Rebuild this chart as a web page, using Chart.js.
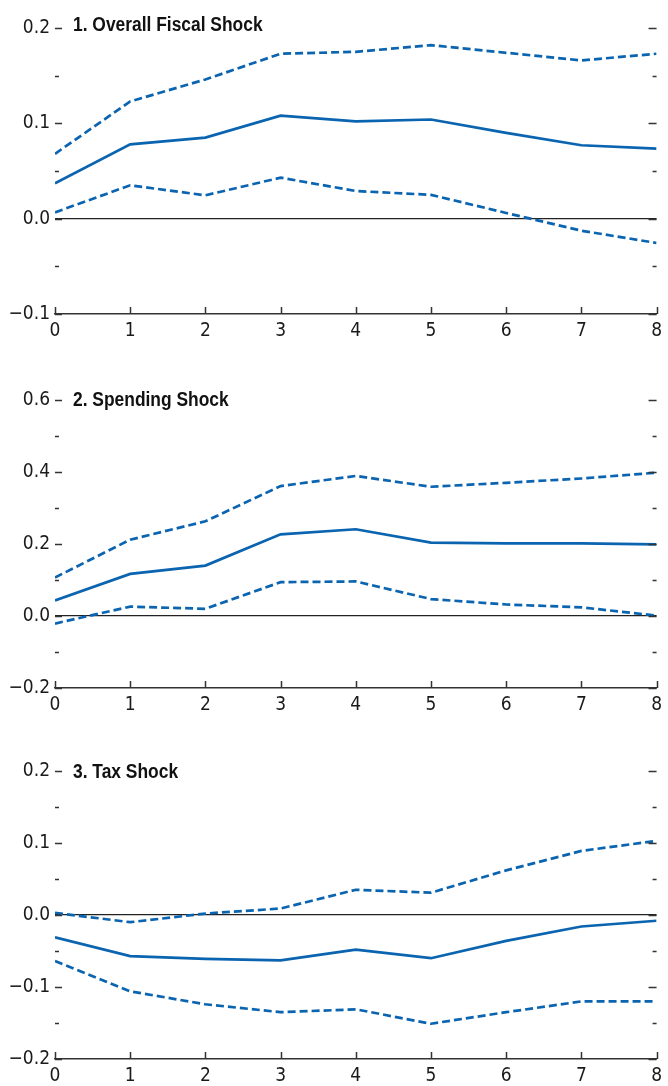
<!DOCTYPE html>
<html>
<head>
<meta charset="utf-8">
<script src="https://cdn.jsdelivr.net/npm/chart.js@4.4.1/dist/chart.umd.min.js"></script>
<style>
  html, body { margin: 0; padding: 0; background: #ffffff; }
  body { width: 668px; height: 1086px; position: relative; overflow: hidden; }
  .panel { position: absolute; left: 0; width: 668px; }
  .title { position: absolute; left: 73px; font-family: 'Liberation Sans', Arial, sans-serif;
           font-weight: bold; font-size: 20px; color: #111; white-space: nowrap; line-height: 1;
           transform: scaleX(0.87); transform-origin: left top; }
</style>
</head>
<body>
<script>
// ---- Data ----
const horizons = [0, 1, 2, 3, 4, 5, 6, 7, 8];
const xTickLabels = ['0', '1', '2', '3', '4', '5', '6', '7', '8'];

const titles = ['1. Overall Fiscal Shock', '2. Spending Shock', '3. Tax Shock'];

// Panel 1: Overall fiscal shock
const overallMid   = [0.037, 0.078, 0.085, 0.108, 0.102, 0.104, 0.090, 0.077, 0.0735];
const overallUpper = [0.068, 0.123, 0.146, 0.173, 0.175, 0.182, 0.174, 0.166, 0.173];
const overallLower = [0.0066, 0.035, 0.0245, 0.043, 0.029, 0.025, 0.006, -0.0126, -0.0255];

// Panel 2: Spending shock
const spendMid   = [0.043, 0.117, 0.140, 0.227, 0.241, 0.204, 0.202, 0.202, 0.199];
const spendUpper = [0.107, 0.212, 0.263, 0.361, 0.389, 0.359, 0.370, 0.382, 0.398];
const spendLower = [-0.021, 0.026, 0.020, 0.094, 0.096, 0.047, 0.032, 0.024, 0.001];

// Panel 3: Tax shock
const taxMid   = [-0.031, -0.057, -0.061, -0.063, -0.048, -0.060, -0.036, -0.016, -0.008];
const taxUpper = [0.003, -0.010, 0.002, 0.009, 0.035, 0.031, 0.062, 0.089, 0.103];
const taxLower = [-0.064, -0.106, -0.124, -0.135, -0.131, -0.151, -0.135, -0.120, -0.120];

// y-axis tick structure per panel
const yMins   = [-0.1, -0.2, -0.2];
const yMaxs   = [0.2, 0.6, 0.2];
const yMajors = [0.1, 0.2, 0.1];
const yMinors = [0.05, 0.1, 0.05];

// ---- Layout / style ----
const BLUE = '#0a64b0';
const FONT = "'Liberation Sans Narrow', 'DejaVu Sans Condensed', sans-serif";
const FSIZE = 19;
const panels = [
  { top: 0,   height: 360, areaTop: 28, areaBottom: 314, titleTop: 14 },
  { top: 360, height: 370, areaTop: 40, areaBottom: 328, titleTop: 29 },
  { top: 730, height: 356, areaTop: 41, areaBottom: 329, titleTop: 31 }
];
const seriesSets = [
  [overallUpper, overallLower, overallMid],
  [spendUpper, spendLower, spendMid],
  [taxUpper, taxLower, taxMid]
];

function isMajor(v, major) {
  const r = v / major;
  return Math.abs(r - Math.round(r)) < 1e-6;
}
function fmt(v) {
  const s = Math.abs(v).toFixed(1);
  return (v < -1e-9 ? '\u2212' : '') + s;
}

const tickMarks = {
  id: 'tickMarks',
  afterDraw(chart, args, opts) {
    const ctx = chart.ctx;
    const a = chart.chartArea;
    const y = chart.scales.y;
    const x = chart.scales.x;
    ctx.save();
    ctx.strokeStyle = '#333';
    ctx.lineWidth = 1.3;
    ctx.beginPath();
    y.ticks.forEach(t => {
      const py = Math.round(y.getPixelForValue(t.value)) + 0.5;
      const maj = isMajor(t.value, opts.major);
      const lenL = maj ? 7 : 4;
      const lenR = maj ? 8 : 4;
      ctx.moveTo(a.left, py); ctx.lineTo(a.left + lenL, py);
      ctx.moveTo(a.right - lenR, py); ctx.lineTo(a.right, py);
    });
    ctx.stroke();
    ctx.beginPath();
    ctx.lineWidth = 1.5;
    x.ticks.forEach(t => {
      const px = Math.round(x.getPixelForValue(t.value)) + 0.5;
      ctx.moveTo(px, a.bottom); ctx.lineTo(px, a.bottom - 7);
    });
    ctx.stroke();
    ctx.restore();
  }
};

function build() {
  panels.forEach((p, i) => {
    const wrap = document.createElement('div');
    wrap.className = 'panel';
    wrap.style.top = p.top + 'px';
    wrap.style.height = p.height + 'px';
    const cv = document.createElement('canvas');
    cv.width = 668; cv.height = p.height;
    cv.style.width = '668px'; cv.style.height = p.height + 'px';
    wrap.appendChild(cv);
    const tt = document.createElement('div');
    tt.className = 'title';
    tt.style.top = p.titleTop + 'px';
    tt.textContent = titles[i];
    wrap.appendChild(tt);
    document.body.appendChild(wrap);

    const [up, lo, mid] = seriesSets[i];
    const toPts = arr => horizons.map((h, k) => ({ x: h, y: arr[k] }));
    const dashed = { borderColor: BLUE, borderWidth: 2.7, borderDash: [8, 4], pointRadius: 0, tension: 0, fill: false };

    new Chart(cv, {
      type: 'line',
      data: {
        datasets: [
          Object.assign({ label: 'Upper bound', data: toPts(up) }, dashed),
          Object.assign({ label: 'Lower bound', data: toPts(lo) }, dashed),
          { label: 'Estimate', data: toPts(mid), borderColor: BLUE, borderWidth: 2.7, pointRadius: 0, tension: 0, fill: false }
        ]
      },
      options: {
        responsive: false,
        animation: false,
        events: [],
        layout: { padding: { top: p.areaTop, right: 6, left: 0, bottom: 0 } },
        plugins: { legend: { display: false }, tooltip: { enabled: false }, tickMarks: { major: yMajors[i] } },
        scales: {
          x: {
            type: 'linear', min: 0, max: 8,
            afterFit: s => { s.height = p.height - p.areaBottom; },
            afterBuildTicks: s => { s.ticks = horizons.map(v => ({ value: v })); },
            ticks: { stepSize: 1, padding: 6, color: '#1a1a1a', font: { family: FONT, size: FSIZE },
                     callback: (v) => xTickLabels[horizons.indexOf(v)] },
            grid: { display: false, drawTicks: false },
            border: { display: true, color: '#333', width: 1.5 }
          },
          y: {
            min: yMins[i], max: yMaxs[i],
            afterFit: s => { s.width = 55; },
            ticks: { stepSize: yMinors[i], padding: 5, color: '#1a1a1a', font: { family: FONT, size: FSIZE },
                     callback: (v) => isMajor(v, yMajors[i]) ? fmt(v) : '' },
            grid: {
              drawTicks: false, drawOnChartArea: true, lineWidth: 1.2,
              color: ctx => (ctx.tick && Math.abs(ctx.tick.value) < 1e-9) ? '#222' : 'rgba(0,0,0,0)'
            },
            border: { display: false }
          }
        }
      },
      plugins: [tickMarks]
    });
  });
}

let built = false;
function go() { if (!built) { built = true; build(); } }
if (document.fonts && document.fonts.load) {
  Promise.all([
    document.fonts.load(FSIZE + "px 'Liberation Sans Narrow'"),
    document.fonts.load("bold 20px 'Liberation Sans'")
  ]).then(go, go);
  setTimeout(go, 800);
} else {
  go();
}
</script>
</body>
</html>
